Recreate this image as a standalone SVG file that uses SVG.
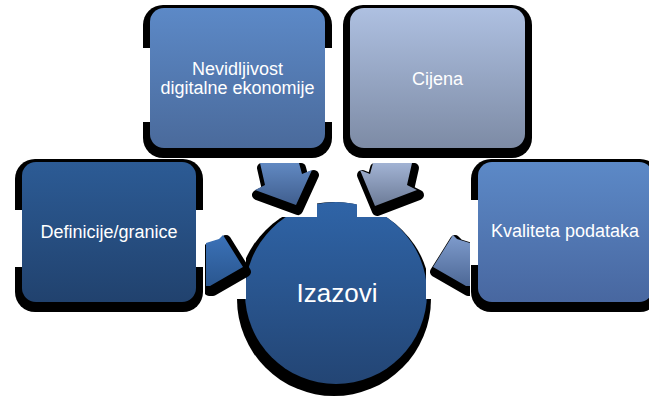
<svg xmlns="http://www.w3.org/2000/svg" width="649" height="396" viewBox="0 0 649 396">
<defs>
<style>
.t{font-family:"Liberation Sans",Arial,sans-serif;fill:#fff;text-anchor:middle}
.sh{fill:#000}
.ash{fill:#000;stroke:#000;stroke-width:10;stroke-linejoin:round}
.mask{fill:#fff}
</style>
<linearGradient id="gDef" x1="0" y1="0" x2="0" y2="1"><stop offset="0" stop-color="#2c5b95"/><stop offset="1" stop-color="#21426e"/></linearGradient>
<linearGradient id="gNev" x1="0" y1="0" x2="0" y2="1"><stop offset="0" stop-color="#5c89c7"/><stop offset="1" stop-color="#4a6a9b"/></linearGradient>
<linearGradient id="gCij" x1="0" y1="0" x2="0" y2="1"><stop offset="0" stop-color="#aec0e1"/><stop offset="1" stop-color="#7d8ba5"/></linearGradient>
<linearGradient id="gKva" x1="0" y1="0" x2="0" y2="1"><stop offset="0" stop-color="#5c89c7"/><stop offset="1" stop-color="#4867a0"/></linearGradient>
<linearGradient id="gIza" x1="0" y1="0" x2="0" y2="1"><stop offset="0" stop-color="#2f64a7"/><stop offset="1" stop-color="#234574"/></linearGradient>
<linearGradient id="gA1" x1="0" y1="0" x2="0" y2="1"><stop offset="0" stop-color="#3b72b8"/><stop offset="1" stop-color="#2a568f"/></linearGradient>
<linearGradient id="gA2" x1="0" y1="0" x2="0" y2="1"><stop offset="0" stop-color="#6189c2"/><stop offset="1" stop-color="#405e8e"/></linearGradient>
<linearGradient id="gA3" x1="0" y1="0" x2="0" y2="1"><stop offset="0" stop-color="#a2b3d4"/><stop offset="1" stop-color="#6c7b97"/></linearGradient>
<linearGradient id="gA4" x1="0" y1="0" x2="0" y2="1"><stop offset="0" stop-color="#7f9ccd"/><stop offset="1" stop-color="#4d6896"/></linearGradient>
<clipPath id="cTop"><rect x="0" y="0" width="649" height="160"/></clipPath>
<clipPath id="cTopArrow"><rect x="0" y="163" width="649" height="233"/></clipPath>
<clipPath id="cLeftArrow"><rect x="205" y="0" width="444" height="396"/></clipPath>
<clipPath id="cRightArrow"><rect x="0" y="0" width="470" height="396"/></clipPath>
</defs>
<rect width="649" height="396" fill="#fff"/>

<g id="izazovi">
<circle class="sh" cx="334" cy="299" r="97"/>
<circle cx="336" cy="293" r="91" fill="url(#gIza)"/>
<rect class="mask" x="225" y="190" width="92" height="27"/>
<rect class="mask" x="357" y="190" width="90" height="27"/>
<rect class="mask" x="225" y="217" width="21" height="82"/>
<rect class="mask" x="426" y="217" width="21" height="82"/>
<text class="t" x="337" y="302" font-size="26">Izazovi</text>
</g>

<g id="definicije">
<rect class="sh" x="15" y="159" width="188" height="153" rx="20"/>
<rect class="mask" x="8" y="210" width="197" height="57"/>
<rect x="22" y="162" width="174" height="140" rx="14" fill="url(#gDef)"/>
<text class="t" x="109" y="238" font-size="18">Definicije/granice</text>
</g>

<g id="nevidljivost">
<rect class="sh" x="143" y="5" width="189" height="153" rx="20" clip-path="url(#cTop)"/>
<rect class="mask" x="138" y="48" width="199" height="74"/>
<rect x="150" y="8" width="175" height="140" rx="14" fill="url(#gNev)"/>
<text class="t" x="237.5" y="75" font-size="18">Nevidljivost</text>
<text class="t" x="237.5" y="93.5" font-size="18">digitalne ekonomije</text>
</g>

<g id="cijena">
<rect class="sh" x="343" y="5" width="189" height="153" rx="20" clip-path="url(#cTop)"/>
<rect x="350" y="8" width="175" height="140" rx="14" fill="url(#gCij)"/>
<text class="t" x="437.5" y="85" font-size="18">Cijena</text>
</g>

<g id="kvaliteta">
<rect class="sh" x="471" y="159" width="189" height="153" rx="20"/>
<rect class="mask" x="465" y="200" width="184" height="65"/>
<rect x="478" y="162" width="175" height="140" rx="14" fill="url(#gKva)"/>
<text class="t" x="565" y="237" font-size="18">Kvaliteta podataka</text>
</g>

<g id="connectors">
<g clip-path="url(#cLeftArrow)">
<polygon class="ash" points="206,243 219,239 223,235 243,267 210,286 206,286" transform="translate(3,5)"/>
<polygon points="206,243 219,239 223,235 243,267 210,286 206,286" fill="url(#gA1)"/>
</g>
<g clip-path="url(#cTopArrow)">
<polygon class="ash" points="260,163 299,163 302,174 312,170 296,205 255,190 265,185" transform="translate(2,5)"/>
<polygon points="260,163 299,163 302,174 312,170 296,205 255,190 265,185" fill="url(#gA2)"/>
<polygon class="ash" points="412,163 373,163 370,174 360,170 375,206 417,190 407,185" transform="translate(2,5)"/>
<polygon points="412,163 373,163 370,174 360,170 375,206 417,190 407,185" fill="url(#gA3)"/>
</g>
<g clip-path="url(#cRightArrow)">
<polygon class="ash" points="470,243 457,239 453,235 433,267 466,286 470,286" transform="translate(2,5)"/>
<polygon points="470,243 457,239 453,235 433,267 466,286 470,286" fill="url(#gA4)"/>
</g>
</g>
</svg>
